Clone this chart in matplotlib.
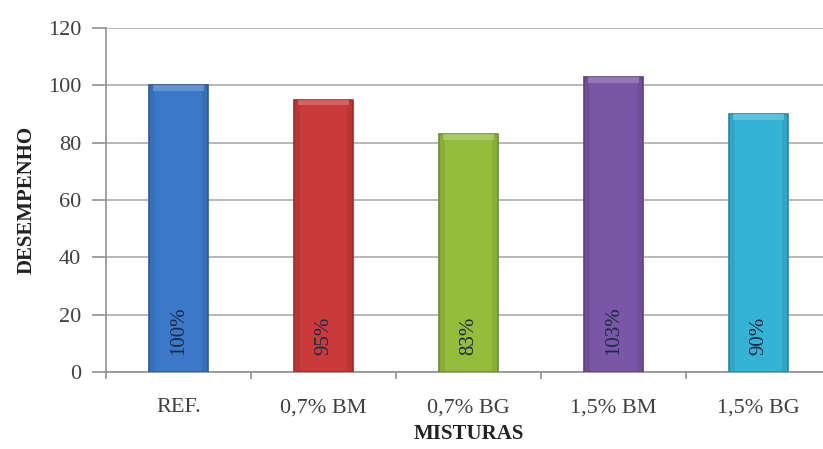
import matplotlib.pyplot as plt
import matplotlib.colors as mcolors
import numpy as np

# ---------- dados ----------
misturas = ["REF.", "0,7% BM", "0,7% BG", "1,5% BM", "1,5% BG"]
desempenho = [100, 95, 83, 103, 90]
rotulos = ["100%", "95%", "83%", "103%", "90%"]
cores = ["#3b78c8", "#c93b3a", "#95bd3c", "#7a56a6", "#35b3d5"]

plt.rcParams['font.family'] = ['Liberation Serif', 'DejaVu Serif']

fig = plt.figure(figsize=(8.23, 4.49), dpi=100)
ax = fig.add_axes([0.1288, 0.1715, 0.881, 0.766])

x = np.arange(len(misturas))
largura = 0.41

for xi, v, c, r in zip(x, desempenho, cores, rotulos):
    escura = np.array(mcolors.to_rgb(c)) * 0.75
    clara = np.clip(np.array(mcolors.to_rgb(c)) * 0.75 + 0.25, 0, 1)
    ax.bar(xi, v, width=largura, color=c, edgecolor=escura, linewidth=1.2, zorder=3)
    # faixas laterais mais escuras (efeito chanfro)
    ax.bar(xi - largura / 2 + 0.02, v, width=0.04, color=escura, alpha=0.3, linewidth=0, zorder=4)
    ax.bar(xi + largura / 2 - 0.02, v, width=0.04, color=escura, alpha=0.3, linewidth=0, zorder=4)
    # topo mais claro
    ax.bar(xi, 2.0, bottom=v - 2.0, width=largura - 0.06, color=clara, alpha=0.8,
           linewidth=0, zorder=5)
    ax.text(xi, 6, r, rotation=90, ha='center', va='bottom', fontsize=15,
            color='#1e2a44', zorder=6)

ax.set_ylim(0, 120)
ax.set_yticks(range(0, 121, 20))
ax.set_xlim(-0.5, 4.5)
ax.set_xticks(x)
ax.set_xticklabels(misturas)
ax.set_xticks(np.arange(-0.5, 5, 1), minor=True)

ax.grid(axis='y', color='#ababab', linewidth=1.2, zorder=0)
ax.set_axisbelow(True)

for lado in ['top', 'right']:
    ax.spines[lado].set_visible(False)
for lado in ['left', 'bottom']:
    ax.spines[lado].set_color('#909090')
    ax.spines[lado].set_linewidth(1.2)

ax.tick_params(axis='y', length=10, width=1.2, color='#909090', labelsize=16,
               labelcolor='#404040', pad=8)
ax.tick_params(axis='x', which='major', length=0, labelsize=16, labelcolor='#404040', pad=19)
ax.tick_params(axis='x', which='minor', length=5, width=1.2, color='#909090')

ax.set_ylabel("DESEMPENHO", fontsize=15, fontweight='bold', color='#222222', labelpad=8)
ax.set_xlabel("MISTURAS", fontsize=15, fontweight='bold', color='#222222', labelpad=5)

fig.savefig("out.png", dpi=100)
